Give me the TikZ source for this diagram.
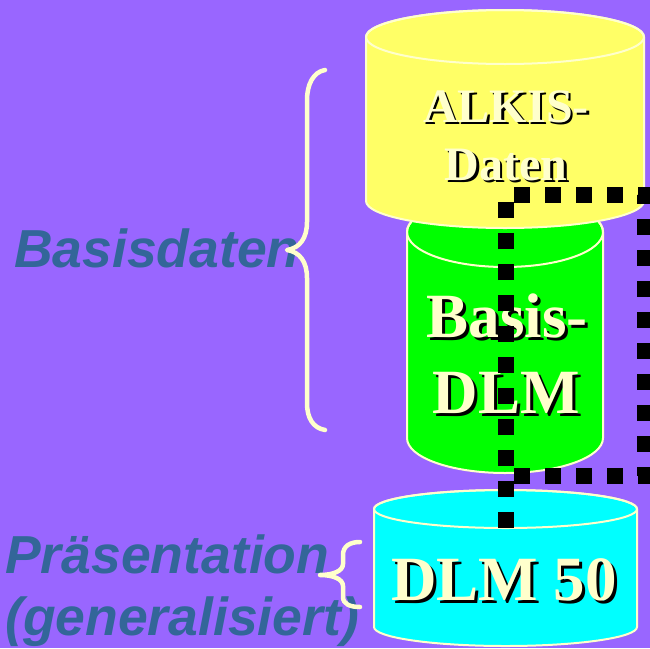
\documentclass[tikz,border=0pt]{standalone}
\usepackage{fontspec}
\setmainfont{Liberation Serif}
\newfontfamily\arialfam{Liberation Sans}
\definecolor{bgpurple}{HTML}{9966FF}
\definecolor{cream}{HTML}{FFFFCC}
\definecolor{cylyellow}{HTML}{FFFF66}
\definecolor{cylgreen}{HTML}{00FF00}
\definecolor{cylcyan}{HTML}{00FFFF}
\definecolor{lblblue}{HTML}{336699}
\begin{document}
\begin{tikzpicture}[x=1pt,y=-1pt,
  cylline/.style={draw=cream, line width=2},
  bigtxt/.style={font=\bfseries\fontsize{63}{63}\selectfont, text=cream, inner sep=0, anchor=base},
  midtxt/.style={font=\bfseries\fontsize{48}{48}\selectfont, text=cream, inner sep=0, anchor=base},
  shade/.style={text=black},
  lbl/.style={font=\arialfam\bfseries\itshape\fontsize{53.5}{53.5}\selectfont, text=lblblue, anchor=base west, inner sep=0},
  bracepath/.style={draw=cream, line width=4.5, line cap=round, line join=round},
  dashline/.style={draw=black, line width=16, dash pattern=on 16 off 15}
]
\useasboundingbox (0,0) rectangle (650,648);
\fill[bgpurple] (0,0) rectangle (650,648);
\clip (0,0) rectangle (650,648);

% green cylinder (Basis-DLM)
\filldraw[fill=cylgreen, cylline] (407,232) -- (407,438) arc[start angle=180, end angle=0, x radius=98, y radius=35] -- (603,232) arc[start angle=0, end angle=-180, x radius=98, y radius=35] -- cycle;
\draw[cylline] (505,232) ellipse[x radius=98, y radius=35];

% yellow cylinder (ALKIS)
\filldraw[fill=cylyellow, cylline] (366,37) -- (366,201) arc[start angle=180, end angle=0, x radius=139, y radius=27] -- (644,37) arc[start angle=0, end angle=-180, x radius=139, y radius=27] -- cycle;
\draw[cylline] (505,37) ellipse[x radius=139, y radius=27];

% cyan cylinder (DLM 50)
\filldraw[fill=cylcyan, cylline] (374,509) -- (374,627) arc[start angle=180, end angle=0, x radius=131.5, y radius=19] -- (637,509) arc[start angle=0, end angle=-180, x radius=131.5, y radius=19] -- cycle;
\draw[cylline] (505.5,509) ellipse[x radius=131.5, y radius=19];

% cylinder texts (shadow + text)
\node[midtxt, shade] (alkisAs) at (508.5,124.5) {ALKIS-};
\node[midtxt] (alkisA) at (506,122) {ALKIS-};
\node[midtxt, shade] (alkisBs) at (508.5,182.5) {Daten};
\node[midtxt] (alkisB) at (506,180) {Daten};
\node[bigtxt, shade] (basisAs) at (510,340) {Basis-};
\node[bigtxt] (basisA) at (507,337) {Basis-};
\node[bigtxt, shade] (basisBs) at (509,416) {DLM};
\node[bigtxt] (basisB) at (506,413) {DLM};
\node[bigtxt, shade] (dlmS) at (507,603) {DLM 50};
\node[bigtxt] (dlm) at (504,600) {DLM 50};

% dotted connector
\coordinate (cA) at (506,528);
\coordinate (cB) at (506,195);
\coordinate (cC) at (645,195);
\coordinate (cD) at (645,476);
\coordinate (cE) at (512,476);
\draw[dashline] (cA) -- (cB) -- (cC) -- (cD) -- (cE);

% labels
\node[lbl] (basisdaten) at (14,267) {Basisdaten};
\node[lbl] (praes) at (5,573) {Präsentation};
\node[lbl] (gen) at (5,635) {(generalisiert)};

% braces
\draw[bracepath] (325,70) .. controls (313,72) and (307,85) .. (307,100) -- (307,222) .. controls (307,238) and (300,248) .. (287,250) .. controls (300,252) and (307,262) .. (307,278) -- (307,403) .. controls (307,418) and (313,428) .. (325,430);
\draw[bracepath] (360,542) .. controls (350,542) and (343,546) .. (343,555) -- (343,564) .. controls (343,571) and (333,575) .. (320,575) .. controls (333,575) and (343,579) .. (343,586) -- (343,597) .. controls (343,604) and (350,607) .. (360,607);
\end{tikzpicture}
\end{document}
